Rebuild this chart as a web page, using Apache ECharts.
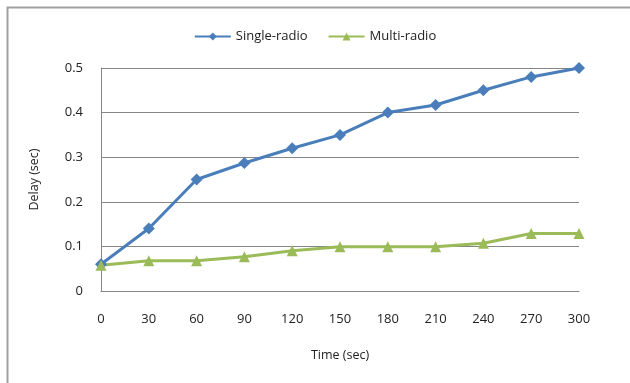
<!DOCTYPE html>
<html>
<head>
<meta charset="utf-8">
<script src="https://cdn.jsdelivr.net/npm/echarts@6/dist/echarts.min.js"></script>
<style>html,body{margin:0;padding:0;background:#fff}#c{width:630px;height:383px}</style>
</head>
<body>
<div id="c"></div>
<script>
const categories = ['0','30','60','90','120','150','180','210','240','270','300'];
const singleRadio = [0.06,0.14,0.25,0.287,0.32,0.35,0.40,0.417,0.45,0.48,0.50];
const multiRadio = [0.058,0.068,0.068,0.077,0.09,0.099,0.099,0.099,0.107,0.129,0.129];
const yTicks = {min:0, max:0.5, interval:0.1};

const font = '"Open Sans", "Liberation Sans", sans-serif';
const chart = echarts.init(document.getElementById('c'), null, {renderer:'canvas'});
chart.setOption({
  animation:false,
  backgroundColor:'#fff',
  graphic:[{type:'rect', shape:{x:7.5,y:7.5,width:700,height:500}, style:{fill:'none', stroke:'#a0a0a0', lineWidth:2}, silent:true}],
  legend:{
    top:25, left:'center',
    itemWidth:36, itemHeight:10, itemGap:20,
    textStyle:{fontFamily:font, fontSize:13, color:'#222'},
    data:['Single-radio','Multi-radio']
  },
  grid:{left:101, right:51, top:68, bottom:92},
  xAxis:{
    type:'category', data:categories, boundaryGap:false,
    name:'Time (sec)', nameLocation:'middle', nameGap:58,
    nameTextStyle:{fontFamily:font, fontSize:12.5, color:'#222'},
    axisLine:{lineStyle:{color:'#868686', width:1}},
    axisTick:{show:false},
    axisLabel:{fontFamily:font, fontSize:13, color:'#222', margin:22}
  },
  yAxis:{
    type:'value', min:yTicks.min, max:yTicks.max, interval:yTicks.interval,
    name:'Delay (sec)', nameLocation:'middle', nameGap:60,
    nameTextStyle:{fontFamily:font, fontSize:12.5, color:'#222'},
    axisLine:{show:true, lineStyle:{color:'#868686', width:1}},
    axisTick:{show:false},
    axisLabel:{fontFamily:font, fontSize:13, color:'#222', margin:18},
    splitLine:{lineStyle:{color:'#868686', width:1}}
  },
  series:[
    {name:'Single-radio', type:'line', data:singleRadio, symbol:'diamond', symbolSize:12,
     lineStyle:{color:'#4a7ebb', width:3}, itemStyle:{color:'#4a7ebb'}},
    {name:'Multi-radio', type:'line', data:multiRadio, symbol:'triangle', symbolSize:11,
     lineStyle:{color:'#9bbb59', width:3}, itemStyle:{color:'#9bbb59'}}
  ]
});
</script>
</body>
</html>
